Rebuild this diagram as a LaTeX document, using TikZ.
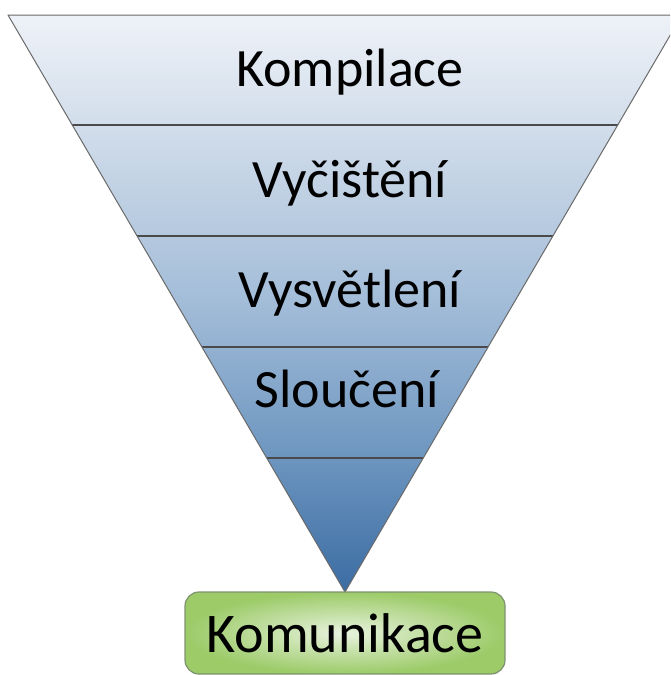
\documentclass[tikz,border=0pt]{standalone}
\usepackage{fontspec}
\setmainfont{Carlito}
\definecolor{funnelA}{HTML}{EEF2F8}
\definecolor{funnelB}{HTML}{C9D7E7}
\definecolor{funnelC}{HTML}{A2BCD8}
\definecolor{funnelD}{HTML}{7098C1}
\definecolor{funnelE}{HTML}{3B6CA3}
\definecolor{sepgray}{HTML}{4A4A4A}
\definecolor{edgegray}{HTML}{6A6A6A}
\definecolor{boxgreen}{HTML}{9CCB68}
\definecolor{boxlight}{HTML}{E8F2DE}
\definecolor{boxedge}{HTML}{7E9270}
\pgfdeclareverticalshading{funnelshade}{100bp}{color(0bp)=(funnelE); color(25bp)=(funnelE); color(37.5bp)=(funnelD); color(50bp)=(funnelC); color(62.5bp)=(funnelB); color(75bp)=(funnelA); color(100bp)=(funnelA)}
\begin{document}
\begin{tikzpicture}[x=1pt,y=-1pt,
    stage/.style={anchor=base, font=\fontsize{54}{60}\selectfont},
    goal/.style={draw=boxedge, line width=1.2pt, rounded corners=14pt, minimum width=320pt, minimum height=82pt,
      inner color=boxlight, outer color=boxgreen, font=\fontsize{56}{62}\selectfont}]
  \useasboundingbox (0,0) rectangle (670,675);
  \clip (0,0) rectangle (670,675);
  \coordinate (tl) at (8,15);
  \coordinate (tr) at (682,15);
  \coordinate (apex) at (345,592);
  \begin{scope}
    \clip (tl) -- (tr) -- (apex) -- cycle;
    \shade[shading=funnelshade] (0,15) rectangle (700,592);
    \foreach \y in {125,236,347,458}{
      \draw[line width=2pt, color=sepgray] (0,\y) -- (700,\y);
    }
  \end{scope}
  \draw[color=edgegray, line width=1pt, line join=round] (tl) -- (tr) -- (apex) -- cycle;
  \node[stage] (kompilace) at (350,86) {Kompilace};
  \node[stage] (vycisteni) at (350,197) {Vyčištění};
  \node[stage] (vysvetleni) at (350,307) {Vysvětlení};
  \node[stage] (slouceni) at (347,407) {Sloučení};
  \node[goal] (komunikace) at (345,633) {Komunikace};
\end{tikzpicture}
\end{document}
